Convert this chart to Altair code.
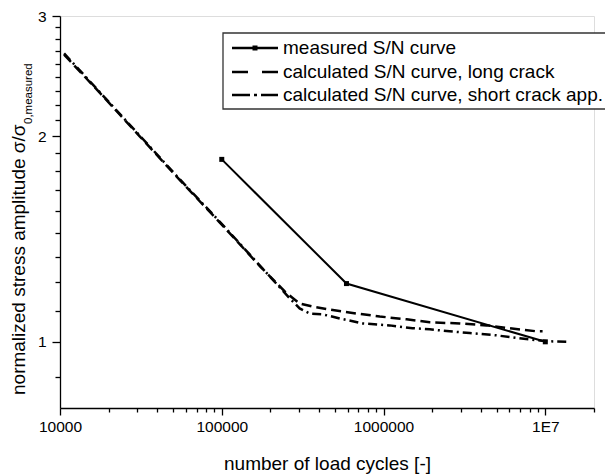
import altair as alt
import pandas as pd

# ---------------- data ----------------
meas_N = [1.0e5, 5.9e5, 1.0e7]
meas_S = [1.85, 1.217, 1.0]

long_N = [1.06e4, 1.77e4, 3.12e4, 5.51e4, 9.73e4, 1.72e5, 2.46e5, 3.03e5, 3.65e5,
          4.65e5, 6.83e5, 9.48e5, 1.39e6, 1.93e6, 2.96e6, 4.34e6, 6.02e6, 8.84e6, 9.62e6]
long_S = [2.634, 2.313, 1.998, 1.725, 1.495, 1.291, 1.184, 1.138, 1.126,
          1.115, 1.100, 1.089, 1.079, 1.068, 1.064, 1.057, 1.047, 1.036, 1.036]

short_N = [1.06e4, 1.77e4, 3.12e4, 5.51e4, 9.73e4, 1.72e5, 2.64e5, 3.03e5, 3.50e5,
           4.21e5, 5.36e5, 7.44e5, 1.09e6, 1.51e6, 1.93e6, 2.56e6, 3.41e6, 5.00e6,
           6.93e6, 1.02e7, 1.37e7]
short_S = [2.645, 2.318, 2.003, 1.729, 1.499, 1.293, 1.157, 1.119, 1.100,
           1.097, 1.082, 1.064, 1.057, 1.047, 1.043, 1.036, 1.030, 1.022,
           1.012, 1.002, 1.000]

legend_labels = ["measured S/N curve",
                 "calculated S/N curve, long crack",
                 "calculated S/N curve, short crack app."]

x_major = [1e4, 1e5, 1e6, 1e7]
x_major_labels = ["10000", "100000", "1000000", "1E7"]
y_major = [1, 2, 3]
y_major_labels = ["1", "2", "3"]

x_title = "number of load cycles [-]"
y_title_main = "normalized stress amplitude \u03c3/\u03c3"
y_title_sub = "0,measured"

FONT = "Liberation Sans"

# ---------------- ticks ----------------
x_ticks = sorted(set(x_major + [k * 10 ** d for d in (4, 5, 6) for k in range(2, 10)] + [2e7]))
y_ticks = sorted(set(y_major + [1 - 1 / 9] + [m + k / 9 for m in (1, 2) for k in range(1, 9)]))


def label_expr(vals, labs):
    e = "''"
    for v, l in zip(reversed(vals), reversed(labs)):
        e = f"datum.value == {v!r} ? '{l}' : ({e})"
    return e


def major_test(vals):
    return "indexof([" + ",".join(repr(v) for v in vals) + "], datum.value) >= 0"


xscale = alt.Scale(type="log", domain=[1e4, 2e7], nice=False)
yscale = alt.Scale(type="log", domain=[0.8, 3], nice=False)

xaxis = alt.Axis(values=x_ticks, labelExpr=label_expr(x_major, x_major_labels),
                 tickSize={"condition": {"test": major_test(x_major), "value": 7}, "value": 4},
                 labelFontSize=15.5, labelPadding=4, labelOverlap=False, labelFlush=False,
                 grid=False, title=x_title, titleFontSize=19, titleFontWeight="normal",
                 titleBaseline="alphabetic", titleY=61, domainColor="black", tickColor="black",
                 domainWidth=1.3, tickWidth=1.3, labelColor="black", titleColor="black")
yaxis = alt.Axis(values=y_ticks, labelExpr=label_expr(y_major, y_major_labels),
                 tickSize={"condition": {"test": major_test(y_major), "value": 8}, "value": 5},
                 labelFontSize=15.5, labelPadding=6, labelOverlap=False, labelFlush=False,
                 grid=False, title=None, domainColor="black", tickColor="black",
                 domainWidth=1.3, tickWidth=1.3, labelColor="black")

df_meas = pd.DataFrame({"N": meas_N, "S": meas_S})
df_long = pd.DataFrame({"N": long_N, "S": long_S})
df_short = pd.DataFrame({"N": short_N, "S": short_S})

X = alt.X("N:Q", scale=xscale, axis=xaxis)
Y = alt.Y("S:Q", scale=yscale, axis=yaxis)

meas_line = alt.Chart(df_meas).mark_line(color="black", strokeWidth=2).encode(x=X, y=Y)
meas_pts = alt.Chart(df_meas).mark_square(color="black", size=25, opacity=1).encode(x=X, y=Y)
long_line = alt.Chart(df_long).mark_line(color="black", strokeWidth=2.5, strokeDash=[10, 5]).encode(x=X, y=Y)
short_line = alt.Chart(df_short).mark_line(color="black", strokeWidth=2.5, strokeDash=[9, 4, 2, 4]).encode(x=X, y=Y)

one = pd.DataFrame({"a": [0]})

# y-axis title with subscript
ytitle_main = alt.Chart(one).mark_text(text=y_title_main, angle=270, align="left", baseline="alphabetic",
                                      fontSize=19, font=FONT, color="black").encode(
    x=alt.value(-35), y=alt.value(379))
ytitle_sub = alt.Chart(one).mark_text(text=y_title_sub, angle=270, align="left", baseline="alphabetic",
                                     fontSize=11.5, font=FONT, color="black").encode(
    x=alt.value(-28), y=alt.value(108))

# legend box
leg_box = alt.Chart(one).mark_rect(fill="white", stroke="#333333", strokeWidth=1.3).encode(
    x=alt.value(163), x2=alt.value(700), y=alt.value(17), y2=alt.value(93))
rows_y = [32, 56, 79]
leg_layers = [leg_box]
leg_layers.append(alt.Chart(one).mark_rule(color="black", strokeWidth=2.5).encode(
    x=alt.value(172), x2=alt.value(218), y=alt.value(rows_y[0])))
leg_layers.append(alt.Chart(one).mark_square(color="black", size=25, opacity=1).encode(
    x=alt.value(195), y=alt.value(rows_y[0])))
leg_layers.append(alt.Chart(one).mark_rule(color="black", strokeWidth=2.5, strokeDash=[16, 14]).encode(
    x=alt.value(172), x2=alt.value(218), y=alt.value(rows_y[1])))
leg_layers.append(alt.Chart(one).mark_rule(color="black", strokeWidth=2.5, strokeDash=[18, 4, 3, 4]).encode(
    x=alt.value(172), x2=alt.value(218), y=alt.value(rows_y[2])))
for lab, ry in zip(legend_labels, rows_y):
    leg_layers.append(alt.Chart(one).mark_text(text=lab, align="left", baseline="middle", fontSize=19,
                                               font=FONT, color="black").encode(
        x=alt.value(223), y=alt.value(ry)))

chart = alt.layer(short_line, long_line, meas_line, meas_pts, ytitle_main, ytitle_sub, *leg_layers).properties(
    width=534, height=392,
    padding={"left": 52, "top": 8, "right": 11, "bottom": 68},
    autosize=alt.AutoSizeParams(type="none"),
).configure_view(stroke=None).configure(font=FONT, background="white")

chart.save("out.html", embed_options={"renderer": "svg", "actions": False})
